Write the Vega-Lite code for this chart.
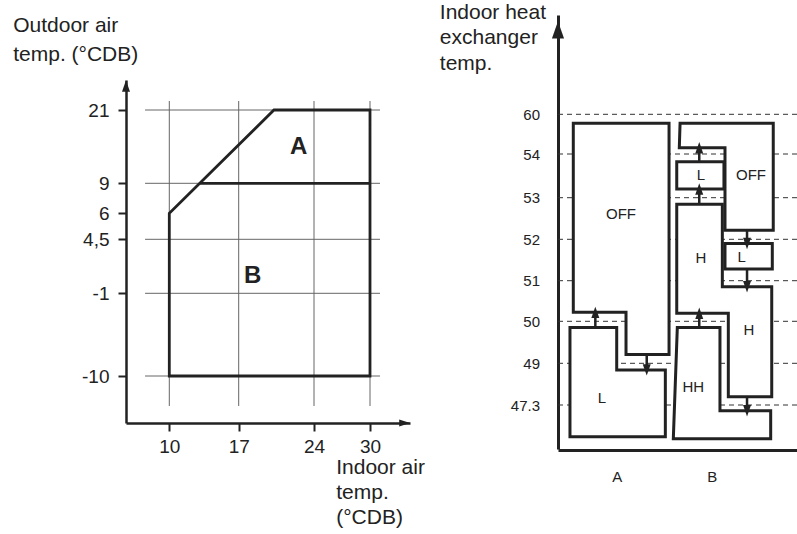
{
  "$schema": "https://vega.github.io/schema/vega-lite/v6.json",
  "width": 797,
  "height": 534,
  "autosize": {"type": "none"},
  "padding": 0,
  "background": "white",
  "config": {"view": {"stroke": null}, "font": "Liberation Sans", "axis": {"grid": false, "labelFont": "Liberation Sans", "titleFont": "Liberation Sans"}},
  "datasets": {
    "lgrid": [
      {"x": 8.32, "x2": 30.75, "y": 21, "y2": 21},
      {"x": 8.32, "x2": 30.75, "y": 9, "y2": 9},
      {"x": 8.32, "x2": 30.75, "y": 4.5, "y2": 4.5},
      {"x": 8.32, "x2": 30.75, "y": -1, "y2": -1},
      {"x": 8.32, "x2": 30.75, "y": -10, "y2": -10},
      {"x": 10, "x2": 10, "y": 22.8, "y2": -13.19},
      {"x": 17, "x2": 17, "y": 22.8, "y2": -13.19},
      {"x": 24, "x2": 24, "y": 22.8, "y2": -13.19},
      {"x": 30, "x2": 30, "y": 22.8, "y2": -13.19}
    ],
    "lbound": [
      {"p": "range", "o": 1, "x": 10, "y": -10},
      {"p": "range", "o": 2, "x": 10, "y": 6},
      {"p": "range", "o": 3, "x": 20.28, "y": 21},
      {"p": "range", "o": 4, "x": 30, "y": 21},
      {"p": "range", "o": 5, "x": 30, "y": -10},
      {"p": "range", "o": 6, "x": 10, "y": -10},
      {"p": "range", "o": 7, "x": 10, "y": 6},
      {"p": "split", "o": 1, "x": 13.1, "y": 9},
      {"p": "split", "o": 2, "x": 30, "y": 9}
    ],
    "llabel": [
      {"x": 22.58, "y": 14.9, "t": "A"},
      {"x": 18.3, "y": 0.78, "t": "B"}
    ],
    "laxisup": [
      {"x": 7.0, "y": 25.8}
    ],
    "laxisright": [
      {"x": 32.6, "y": -15}
    ],
    "rdash": [
      {"y": 60, "x": 0.382, "x2": 2.898},
      {"y": 54, "x": 0.382, "x2": 2.898},
      {"y": 53, "x": 0.382, "x2": 2.898},
      {"y": 52, "x": 0.382, "x2": 2.898},
      {"y": 51, "x": 0.382, "x2": 2.898},
      {"y": 50, "x": 0.382, "x2": 2.898},
      {"y": 49, "x": 0.382, "x2": 2.898},
      {"y": 47.3, "x": 0.382, "x2": 2.898}
    ],
    "rfill": [
      {"x": 0.543, "x2": 1.551, "y": 50.22, "y2": 58.64},
      {"x": 1.098, "x2": 1.551, "y": 49.21, "y2": 58.64},
      {"x": 0.508, "x2": 1.0, "y": 46.36, "y2": 49.85},
      {"x": 0.508, "x2": 1.512, "y": 46.36, "y2": 48.73},
      {"x": 1.662, "x2": 2.648, "y": 54.95, "y2": 58.64},
      {"x": 2.14, "x2": 2.648, "y": 52.22, "y2": 58.64},
      {"x": 1.632, "x2": 2.129, "y": 53.2, "y2": 53.82},
      {"x": 1.632, "x2": 2.112, "y": 50.2, "y2": 52.84},
      {"x": 1.632, "x2": 2.632, "y": 50.2, "y2": 50.85},
      {"x": 2.175, "x2": 2.632, "y": 47.64, "y2": 50.85},
      {"x": 2.14, "x2": 2.638, "y": 51.28, "y2": 51.9},
      {"x": 1.62, "x2": 2.087, "y": 46.3, "y2": 49.85},
      {"x": 1.62, "x2": 2.621, "y": 46.3, "y2": 47.13}
    ],
    "rbox": [
      {"b": "aoff", "o": 1, "x": 0.543, "y": 58.64},
      {"b": "aoff", "o": 2, "x": 1.551, "y": 58.64},
      {"b": "aoff", "o": 3, "x": 1.551, "y": 49.21},
      {"b": "aoff", "o": 4, "x": 1.098, "y": 49.21},
      {"b": "aoff", "o": 5, "x": 1.098, "y": 50.22},
      {"b": "aoff", "o": 6, "x": 0.543, "y": 50.22},
      {"b": "aoff", "o": 7, "x": 0.543, "y": 58.64},
      {"b": "aoff", "o": 8, "x": 1.551, "y": 58.64},
      {"b": "al", "o": 1, "x": 0.508, "y": 49.85},
      {"b": "al", "o": 2, "x": 1.0, "y": 49.85},
      {"b": "al", "o": 3, "x": 1.0, "y": 48.73},
      {"b": "al", "o": 4, "x": 1.512, "y": 48.73},
      {"b": "al", "o": 5, "x": 1.512, "y": 46.36},
      {"b": "al", "o": 6, "x": 0.508, "y": 46.36},
      {"b": "al", "o": 7, "x": 0.508, "y": 49.85},
      {"b": "al", "o": 8, "x": 1.0, "y": 49.85},
      {"b": "boff", "o": 1, "x": 1.667, "y": 58.64},
      {"b": "boff", "o": 2, "x": 2.648, "y": 58.64},
      {"b": "boff", "o": 3, "x": 2.648, "y": 52.22},
      {"b": "boff", "o": 4, "x": 2.14, "y": 52.22},
      {"b": "boff", "o": 5, "x": 2.14, "y": 54.95},
      {"b": "boff", "o": 6, "x": 1.659, "y": 54.95},
      {"b": "boff", "o": 7, "x": 1.667, "y": 58.64},
      {"b": "boff", "o": 8, "x": 2.648, "y": 58.64},
      {"b": "blu", "o": 1, "x": 1.632, "y": 53.82},
      {"b": "blu", "o": 2, "x": 2.129, "y": 53.82},
      {"b": "blu", "o": 3, "x": 2.129, "y": 53.2},
      {"b": "blu", "o": 4, "x": 1.632, "y": 53.2},
      {"b": "blu", "o": 5, "x": 1.632, "y": 53.82},
      {"b": "blu", "o": 6, "x": 2.129, "y": 53.82},
      {"b": "bh", "o": 1, "x": 1.632, "y": 52.84},
      {"b": "bh", "o": 2, "x": 2.112, "y": 52.84},
      {"b": "bh", "o": 3, "x": 2.112, "y": 50.85},
      {"b": "bh", "o": 4, "x": 2.632, "y": 50.85},
      {"b": "bh", "o": 5, "x": 2.632, "y": 47.64},
      {"b": "bh", "o": 6, "x": 2.175, "y": 47.64},
      {"b": "bh", "o": 7, "x": 2.175, "y": 50.2},
      {"b": "bh", "o": 8, "x": 1.632, "y": 50.2},
      {"b": "bh", "o": 9, "x": 1.632, "y": 52.84},
      {"b": "bh", "o": 10, "x": 2.112, "y": 52.84},
      {"b": "bls", "o": 1, "x": 2.14, "y": 51.9},
      {"b": "bls", "o": 2, "x": 2.638, "y": 51.9},
      {"b": "bls", "o": 3, "x": 2.638, "y": 51.28},
      {"b": "bls", "o": 4, "x": 2.14, "y": 51.28},
      {"b": "bls", "o": 5, "x": 2.14, "y": 51.9},
      {"b": "bls", "o": 6, "x": 2.638, "y": 51.9},
      {"b": "bhh", "o": 1, "x": 1.638, "y": 49.85},
      {"b": "bhh", "o": 2, "x": 2.087, "y": 49.85},
      {"b": "bhh", "o": 3, "x": 2.087, "y": 47.13},
      {"b": "bhh", "o": 4, "x": 2.621, "y": 47.13},
      {"b": "bhh", "o": 5, "x": 2.621, "y": 46.3},
      {"b": "bhh", "o": 6, "x": 1.596, "y": 46.3},
      {"b": "bhh", "o": 7, "x": 1.638, "y": 49.85},
      {"b": "bhh", "o": 8, "x": 2.087, "y": 49.85}
    ],
    "rarrow": [
      {"x": 0.775, "y": 49.85, "y2": 50.22},
      {"x": 1.316, "y": 49.21, "y2": 48.73},
      {"x": 1.869, "y": 49.85, "y2": 50.2},
      {"x": 1.869, "y": 52.84, "y2": 53.2},
      {"x": 1.869, "y": 53.82, "y2": 54.95},
      {"x": 2.372, "y": 52.22, "y2": 51.9},
      {"x": 2.372, "y": 51.28, "y2": 50.85},
      {"x": 2.372, "y": 47.64, "y2": 47.13}
    ],
    "rheadup": [
      {"x": 0.775, "y": 50.22},
      {"x": 1.869, "y": 50.2},
      {"x": 1.869, "y": 53.2},
      {"x": 1.869, "y": 54.95}
    ],
    "rheaddown": [
      {"x": 1.316, "y": 48.73},
      {"x": 2.372, "y": 51.9},
      {"x": 2.372, "y": 50.85},
      {"x": 2.372, "y": 47.13}
    ],
    "raxis": [
      {"x": 0.382, "y": 70.2}
    ],
    "rlabel": [
      {"x": 1.045, "y": 52.62, "t": "OFF"},
      {"x": 0.845, "y": 47.59, "t": "L"},
      {"x": 1.887, "y": 53.52, "t": "L"},
      {"x": 2.414, "y": 53.52, "t": "OFF"},
      {"x": 1.887, "y": 51.56, "t": "H"},
      {"x": 2.316, "y": 51.58, "t": "L"},
      {"x": 2.392, "y": 49.79, "t": "H"},
      {"x": 1.806, "y": 48.05, "t": "HH"}
    ]
  },
  "layer": [
    {
      "encoding": {
        "x": {
          "field": "x", "type": "quantitative",
          "scale": {"domain": [7, 10, 17, 24, 30, 33], "range": [126, 169.3, 238.7, 314, 370, 410], "nice": false, "zero": false},
          "axis": {
            "orient": "bottom", "offset": -111, "values": [10, 17, 24, 30],
            "labelExpr": "toString(datum.value)",
            "tickSize": 8, "tickWidth": 2, "tickColor": "#222",
            "domainColor": "#222", "domainWidth": 2.5,
            "labelFontSize": 19, "labelColor": "#222", "labelPadding": 6,
            "labelOverlap": false, "labelFlush": false, "labelBound": false,
            "title": ["Indoor air", "temp.", "(°CDB)"],
            "titleFontSize": 21, "titleFontWeight": "normal", "titleColor": "#222",
            "titleAlign": "left", "titleBaseline": "alphabetic", "titleAngle": 0,
            "titleX": 335.7, "titleY": 50.3, "titleLineHeight": 25
          }
        },
        "y": {
          "field": "y", "type": "quantitative",
          "scale": {"domain": [-15, -10, -1, 4.5, 6, 9, 21, 27], "range": [423, 376, 293.3, 239.3, 213.3, 183.3, 110, 80], "nice": false, "zero": false},
          "axis": {
            "orient": "left", "offset": -126, "values": [-10, -1, 4.5, 6, 9, 21],
            "labelExpr": "replace(toString(datum.value), '.', ',')",
            "tickSize": 8, "tickWidth": 2, "tickColor": "#222",
            "domainColor": "#222", "domainWidth": 2.5,
            "labelFontSize": 19, "labelColor": "#222", "labelPadding": 9,
            "labelOverlap": false, "labelFlush": false, "labelBound": false,
            "title": ["Outdoor air", "temp. (°CDB)"],
            "titleFontSize": 21, "titleFontWeight": "normal", "titleColor": "#222",
            "titleAlign": "left", "titleBaseline": "alphabetic", "titleAngle": 0,
            "titleX": -113.3, "titleY": 31.7, "titleLineHeight": 29.3
          }
        }
      },
      "layer": [
        {
          "data": {"name": "lgrid"},
          "mark": {"type": "rule", "color": "#666", "strokeWidth": 1},
          "encoding": {"x2": {"field": "x2"}, "y2": {"field": "y2"}}
        },
        {
          "data": {"name": "lbound"},
          "mark": {"type": "line", "color": "#222", "strokeWidth": 2.8, "strokeJoin": "miter"},
          "encoding": {"detail": {"field": "p"}, "order": {"field": "o", "type": "quantitative"}}
        },
        {
          "data": {"name": "llabel"},
          "mark": {"type": "text", "fontSize": 24, "fontWeight": "bold", "color": "#222", "align": "center", "baseline": "middle"},
          "encoding": {"text": {"field": "t"}}
        },
        {
          "data": {"name": "laxisup"},
          "mark": {"type": "point", "shape": "M0,-1L0.7,1L-0.7,1Z", "filled": true, "color": "#222", "opacity": 1, "size": 130, "strokeWidth": 0},
          "encoding": {}
        },
        {
          "data": {"name": "laxisright"},
          "mark": {"type": "point", "shape": "M1,0L-1,0.65L-1,-0.65Z", "filled": true, "color": "#222", "opacity": 1, "size": 120, "strokeWidth": 0},
          "encoding": {}
        }
      ]
    },
    {
      "encoding": {
        "x": {
          "field": "x", "type": "quantitative",
          "scale": {"domain": [0.382, 2.898], "range": [558, 797], "nice": false, "zero": false},
          "axis": {
            "orient": "bottom", "offset": -84, "values": [1, 2],
            "labelExpr": "datum.value == 1 ? 'A' : 'B'",
            "ticks": false, "tickSize": 0,
            "domainColor": "#222", "domainWidth": 3,
            "labelFontSize": 15, "labelColor": "#222", "labelPadding": 19,
            "labelOverlap": false, "labelFlush": false, "labelBound": false,
            "title": null
          }
        },
        "y": {
          "field": "y", "type": "quantitative",
          "scale": {"domain": [46, 47.3, 49, 50, 51, 52, 53, 54, 60, 72], "range": [449, 405, 363.3, 321.3, 280.7, 239.3, 197.7, 154, 114.3, 15], "nice": false, "zero": false},
          "axis": {
            "orient": "left", "offset": -558, "values": [47.3, 49, 50, 51, 52, 53, 54, 60],
            "labelExpr": "toString(datum.value)",
            "ticks": false, "tickSize": 0,
            "domainColor": "#222", "domainWidth": 3,
            "labelFontSize": 15, "labelColor": "#222", "labelPadding": 18.5,
            "labelOverlap": false, "labelFlush": false, "labelBound": false,
            "title": ["Indoor heat", "exchanger", "temp."],
            "titleFontSize": 21, "titleFontWeight": "normal", "titleColor": "#222",
            "titleAlign": "left", "titleBaseline": "alphabetic", "titleAngle": 0,
            "titleX": -118.7, "titleY": 18.3, "titleLineHeight": 25.5
          }
        }
      },
      "layer": [
        {
          "data": {"name": "rdash"},
          "mark": {"type": "rule", "color": "#333", "strokeWidth": 1, "strokeDash": [5, 4]},
          "encoding": {"x2": {"field": "x2"}}
        },
        {
          "data": {"name": "rfill"},
          "mark": {"type": "rect", "color": "white", "opacity": 1},
          "encoding": {"x2": {"field": "x2"}, "y2": {"field": "y2"}}
        },
        {
          "data": {"name": "rbox"},
          "mark": {"type": "line", "color": "#222", "strokeWidth": 3, "strokeJoin": "miter"},
          "encoding": {"detail": {"field": "b"}, "order": {"field": "o", "type": "quantitative"}}
        },
        {
          "data": {"name": "rarrow"},
          "mark": {"type": "rule", "color": "#222", "strokeWidth": 2.5},
          "encoding": {"y2": {"field": "y2"}}
        },
        {
          "data": {"name": "rheadup"},
          "mark": {"type": "point", "shape": "M0,-1L0.7,1L-0.7,1Z", "filled": true, "color": "#222", "opacity": 1, "size": 130, "strokeWidth": 0},
          "encoding": {}
        },
        {
          "data": {"name": "rheaddown"},
          "mark": {"type": "point", "shape": "M0,1L0.7,-1L-0.7,-1Z", "filled": true, "color": "#222", "opacity": 1, "size": 130, "strokeWidth": 0},
          "encoding": {}
        },
        {
          "data": {"name": "raxis"},
          "mark": {"type": "point", "shape": "M0,-1L0.7,1L-0.7,1Z", "filled": true, "color": "#222", "opacity": 1, "size": 300, "strokeWidth": 0},
          "encoding": {}
        },
        {
          "data": {"name": "rlabel"},
          "mark": {"type": "text", "fontSize": 15, "color": "#222", "align": "center", "baseline": "middle"},
          "encoding": {"text": {"field": "t"}}
        }
      ]
    }
  ],
  "resolve": {"scale": {"x": "independent", "y": "independent"}, "axis": {"x": "independent", "y": "independent"}}
}
